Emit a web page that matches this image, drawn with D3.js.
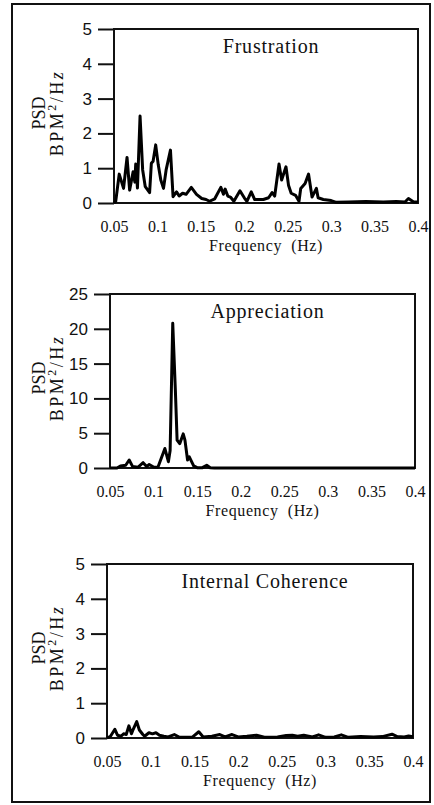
<!DOCTYPE html>
<html>
<head>
<meta charset="utf-8">
<script src="https://cdn.jsdelivr.net/npm/d3@7"></script>
<style>
  body { margin: 0; background: #fff; }
  svg { display: block; }
</style>
</head>
<body>
<div id="container"></div>
<script>
width = 434;
height = 805;

// x ticks shared by the three panels
xTicks = [0.05, 0.1, 0.15, 0.2, 0.25, 0.3, 0.35, 0.4];
xTickLabels = ["0.05", "0.1", "0.15", "0.2", "0.25", "0.3", "0.35", "0.4"];

// Frustration
frustFreq = [0.05, 0.052, 0.056, 0.061, 0.065, 0.068, 0.072, 0.074, 0.075, 0.077, 0.080, 0.083, 0.086, 0.091,
    0.093, 0.095, 0.098, 0.101, 0.104, 0.107, 0.110, 0.115, 0.118, 0.122, 0.125, 0.129, 0.133, 0.139, 0.145,
    0.151, 0.156, 0.160, 0.166, 0.173, 0.176, 0.178, 0.181, 0.184, 0.188, 0.195, 0.200, 0.203, 0.208, 0.212,
    0.222, 0.228, 0.232, 0.235, 0.240, 0.243, 0.248, 0.251, 0.254, 0.259, 0.263, 0.265, 0.270, 0.274, 0.278,
    0.283, 0.285, 0.291, 0.300, 0.306, 0.32, 0.34, 0.36, 0.375, 0.385, 0.389, 0.395, 0.4];
frustPsd = [0, 0.05, 0.83, 0.42, 1.31, 0.37, 0.9, 0.6, 1.12, 0.43, 2.5, 0.95, 0.47, 0.3,
    1.14, 1.2, 1.67, 1.09, 0.65, 0.42, 0.95, 1.52, 0.18, 0.32, 0.2, 0.28, 0.25, 0.45, 0.25,
    0.13, 0.1, 0.05, 0.12, 0.45, 0.25, 0.4, 0.2, 0.17, 0.05, 0.35, 0.15, 0.05, 0.32, 0.1,
    0.1, 0.15, 0.3, 0.2, 1.12, 0.66, 1.04, 0.5, 0.28, 0.22, 0.05, 0.42, 0.56, 0.83, 0.17,
    0.42, 0.15, 0.1, 0.07, 0.02, 0.03, 0.04, 0.03, 0.04, 0.03, 0.13, 0.03, 0.03];

// Appreciation
apprFreq = [0.05, 0.058, 0.062, 0.068, 0.072, 0.076, 0.082, 0.088, 0.092, 0.095, 0.1, 0.105, 0.113, 0.117,
    0.119, 0.122, 0.125, 0.127, 0.130, 0.134, 0.136, 0.139, 0.141, 0.146, 0.150, 0.156, 0.161, 0.165, 0.17, 0.4];
apprPsd = [0, 0, 0.3, 0.4, 1.15, 0.2, 0.1, 0.76, 0.2, 0.5, 0.15, 0.1, 2.8, 0.9,
    2.5, 20.8, 11.2, 4.0, 3.5, 4.9, 4.0, 1.15, 1.6, 0.3, 0.05, 0.05, 0.4, 0.05, 0, 0];

// Internal Coherence
cohFreq = [0.05, 0.054, 0.059, 0.062, 0.066, 0.069, 0.072, 0.075, 0.078, 0.080, 0.084, 0.087, 0.091, 0.093,
    0.098, 0.102, 0.106, 0.110, 0.115, 0.120, 0.127, 0.133, 0.148, 0.155, 0.160, 0.170, 0.179, 0.185, 0.193,
    0.200, 0.21, 0.221, 0.23, 0.245, 0.255, 0.262, 0.268, 0.275, 0.285, 0.292, 0.30, 0.31, 0.318, 0.326,
    0.34, 0.355, 0.365, 0.376, 0.382, 0.39, 0.395, 0.4];
cohPsd = [0, 0.05, 0.25, 0.08, 0.05, 0.12, 0.1, 0.35, 0.12, 0.25, 0.47, 0.23, 0.1, 0.05,
    0.15, 0.12, 0.15, 0.08, 0.05, 0.03, 0.1, 0.02, 0.03, 0.18, 0.03, 0.05, 0.1, 0.03, 0.1,
    0.03, 0.05, 0.08, 0.02, 0.03, 0.07, 0.08, 0.05, 0.08, 0.03, 0.09, 0.02, 0.03, 0.09, 0.02,
    0.04, 0.03, 0.04, 0.11, 0.04, 0.03, 0.06, 0.04];

panels = [
    { title: "Frustration", freq: frustFreq, psd: frustPsd, yMax: 5, yTicks: [0, 1, 2, 3, 4, 5],
      left: 114, right: 418, top: 29, bottom: 203 },
    { title: "Appreciation", freq: apprFreq, psd: apprPsd, yMax: 25, yTicks: [0, 5, 10, 15, 20, 25],
      left: 110, right: 415, top: 294, bottom: 468 },
    { title: "Internal Coherence", freq: cohFreq, psd: cohPsd, yMax: 5, yTicks: [0, 1, 2, 3, 4, 5],
      left: 107, right: 413, top: 564, bottom: 738 }
];

const serif = "Liberation Serif, Times New Roman, serif";
const sans = "Liberation Sans, Arial, sans-serif";

const svg = d3.select("div#container")
    .append("svg")
    .attr("width", width)
    .attr("height", height);

// outer frame
svg.append("rect")
    .attr("x", 12).attr("y", 4)
    .attr("width", 418).attr("height", 798)
    .attr("fill", "none")
    .attr("stroke", "#111")
    .attr("stroke-width", 2);

panels.forEach(drawPanel);

function drawPanel(p) {
    const x = d3.scaleLinear().domain([0.05, 0.4]).range([p.left, p.right]);
    const y = d3.scaleLinear().domain([0, p.yMax]).range([p.bottom, p.top]);
    const g = svg.append("g");

    // y axis (ticks stick out to the left of the box)
    g.append("g")
        .attr("transform", `translate(${p.left},0)`)
        .call(d3.axisLeft(y).tickValues(p.yTicks).tickFormat(d3.format("d"))
            .tickSize(16).tickSizeOuter(0).tickPadding(6))
        .call(a => a.select(".domain").remove())
        .call(a => a.selectAll("line").attr("stroke", "#111").attr("stroke-width", 2))
        .call(a => a.selectAll("text")
            .style("font-family", sans)
            .style("font-size", "17px")
            .attr("fill", "#111"));

    // x axis labels only
    g.append("g")
        .attr("transform", `translate(0,${p.bottom})`)
        .call(d3.axisBottom(x).tickValues(xTicks).tickSize(0)
            .tickFormat((d, i) => xTickLabels[i]))
        .call(a => a.select(".domain").remove())
        .call(a => a.selectAll("text")
            .attr("y", 29).attr("dy", null)
            .style("font-family", serif)
            .style("font-size", "16px")
            .attr("fill", "#111"));

    // plot box
    g.append("rect")
        .attr("x", p.left).attr("y", p.top)
        .attr("width", p.right - p.left).attr("height", p.bottom - p.top)
        .attr("fill", "none")
        .attr("stroke", "#111")
        .attr("stroke-width", 2);

    // trace
    const pts = p.freq.map((f, i) => [f, p.psd[i]]);
    g.append("path")
        .datum(pts)
        .attr("fill", "none")
        .attr("stroke", "#000")
        .attr("stroke-width", 3)
        .attr("stroke-linejoin", "round")
        .attr("d", d3.line().x(d => x(d[0])).y(d => y(d[1])));

    // title
    g.append("text")
        .attr("x", (p.left + p.right) / 2 + 5)
        .attr("y", p.top + 24)
        .attr("text-anchor", "middle")
        .style("font-family", serif)
        .style("font-size", "20px")
        .style("letter-spacing", "0.8px")
        .attr("fill", "#111")
        .text(p.title);

    // x label
    g.append("text")
        .attr("x", (p.left + p.right) / 2)
        .attr("y", p.bottom + 48)
        .attr("text-anchor", "middle")
        .style("font-family", serif)
        .style("font-size", "16px")
        .style("letter-spacing", "0.6px")
        .style("white-space", "pre")
        .attr("fill", "#111")
        .text("Frequency  (Hz)");

    // y label, two rotated lines
    const cy = (p.top + p.bottom) / 2 - 3;
    const yl = g.append("text")
        .attr("transform", `translate(0,${cy}) rotate(-90)`)
        .attr("text-anchor", "middle")
        .style("font-family", serif)
        .style("font-size", "18px")
        .attr("fill", "#111");
    yl.append("tspan").attr("x", 0).attr("y", 45).text("PSD");
    const l2 = yl.append("tspan").attr("x", 0).attr("y", 63)
        .style("letter-spacing", "2.5px");
    l2.append("tspan").text("BPM");
    l2.append("tspan").style("font-size", "12px").attr("dy", -7).text("2");
    l2.append("tspan").attr("dy", 7).text("/H");
    l2.append("tspan").style("font-style", "italic").text("z");
}
</script>
</body>
</html>
